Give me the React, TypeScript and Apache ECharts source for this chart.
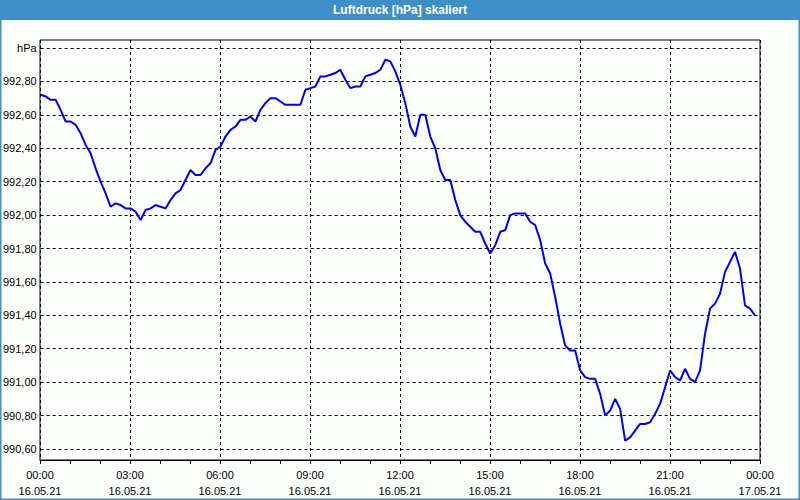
import React, { useEffect, useRef } from "react";
import * as echarts from "echarts";

// 10-minute readings, 16.05.21 00:00 .. 23:50 (hPa)
const pressure: number[] = [
  992.72, 992.71, 992.69, 992.69, 992.63, 992.56, 992.56, 992.54, 992.49, 992.42,
  992.37, 992.28, 992.20, 992.13, 992.05, 992.07, 992.06, 992.04, 992.04, 992.02,
  991.97, 992.03, 992.04, 992.06, 992.05, 992.04, 992.09, 992.13, 992.15, 992.21,
  992.27, 992.24, 992.24, 992.28, 992.31, 992.39, 992.41, 992.47, 992.51, 992.53,
  992.57, 992.57, 992.59, 992.56, 992.63, 992.67, 992.70, 992.70, 992.68, 992.66,
  992.66, 992.66, 992.66, 992.75, 992.76, 992.77, 992.83, 992.83, 992.84, 992.85,
  992.87, 992.81, 992.76, 992.77, 992.77, 992.83, 992.84, 992.85, 992.87, 992.93,
  992.92, 992.86, 992.78, 992.67, 992.53, 992.47, 992.60, 992.60, 992.47, 992.40,
  992.27, 992.21, 992.21, 992.09, 992.00, 991.96, 991.93, 991.90, 991.90, 991.83,
  991.77, 991.82, 991.90, 991.91, 992.00, 992.01, 992.01, 992.01, 991.96, 991.94,
  991.85, 991.71, 991.65, 991.51, 991.35, 991.22, 991.19, 991.19, 991.07, 991.03,
  991.02, 991.02, 990.93, 990.80, 990.83, 990.90, 990.84, 990.65, 990.67, 990.71,
  990.75, 990.75, 990.76, 990.81, 990.87, 990.97, 991.07, 991.03, 991.01, 991.08,
  991.02, 991.00, 991.07, 991.29, 991.44, 991.47, 991.53, 991.66, 991.72, 991.78,
  991.68, 991.46, 991.44, 991.40,
];

// time of each reading in hours since 16.05.21 00:00
const hoursOfDay: number[] = pressure.map((_, i) => i / 6);

const xTickLabels: string[] = [
  "00:00\n16.05.21", "03:00\n16.05.21", "06:00\n16.05.21", "09:00\n16.05.21",
  "12:00\n16.05.21", "15:00\n16.05.21", "18:00\n16.05.21", "21:00\n16.05.21",
  "00:00\n17.05.21",
];

const yUnitLabel = "hPa";
const titleText = "Luftdruck [hPa] skaliert";

const FONT = "'Liberation Sans', Arial, sans-serif";
const BLUE = "#3d8fc6";

export default function App() {
  const ref = useRef<HTMLDivElement>(null);

  useEffect(() => {
    if (!ref.current) return;
    const chart = echarts.init(ref.current, undefined, { renderer: "svg" });
    const dashed = { type: [3, 3] as number[], color: "#000", width: 1 };
    chart.setOption({
      animation: false,
      backgroundColor: "#fcfefc",
      textStyle: { fontFamily: FONT },
      grid: [
        { left: 40, right: 40, top: 40, bottom: 40, show: true, borderColor: "#000", borderWidth: 1 },
        { left: 40, right: 40, top: 48, bottom: 51 },
      ],
      xAxis: [
        {
          gridIndex: 0,
          type: "value",
          min: 0,
          max: 24,
          interval: 3,
          axisLine: { show: true, lineStyle: { color: "#000", width: 1 } },
          axisTick: { show: true, length: 4, lineStyle: { color: "#000" } },
          minorTick: { show: true, splitNumber: 3, length: 4, lineStyle: { color: "#000" } },
          splitLine: { show: true, lineStyle: dashed },
          axisLabel: {
            color: "#000",
            fontSize: 11,
            fontFamily: FONT,
            lineHeight: 16,
            margin: 7,
            formatter: (v: number) => xTickLabels[Math.round(v / 3)] ?? "",
          },
        },
        { gridIndex: 1, type: "value", min: 0, max: 24, show: false },
      ],
      yAxis: [
        { gridIndex: 0, type: "value", min: 0, max: 1, show: false },
        {
          gridIndex: 1,
          type: "value",
          min: 990.6,
          max: 993.0,
          interval: 0.2,
          axisLine: { show: false },
          axisTick: { show: false },
          splitLine: { show: true, lineStyle: dashed },
          axisLabel: {
            color: "#000",
            fontSize: 11,
            fontFamily: FONT,
            margin: 4,
            formatter: (v: number) =>
              v > 992.99 ? yUnitLabel : v.toFixed(2).replace(".", ","),
          },
        },
      ],
      series: [
        {
          type: "line",
          xAxisIndex: 1,
          yAxisIndex: 1,
          data: pressure.map((p, i) => [hoursOfDay[i], p]),
          showSymbol: false,
          symbol: "none",
          lineStyle: { color: "#0000e6", width: 2 },
          z: 5,
        },
      ],
      graphic: [
        {
          type: "rect",
          shape: { x: 0, y: 0, width: 800, height: 20 },
          style: { fill: BLUE },
          silent: true,
        },
        {
          type: "text",
          x: 400,
          y: 10,
          style: {
            text: titleText,
            fill: "#fff",
            font: `bold 12px ${FONT}`,
            align: "center",
            verticalAlign: "middle",
          },
          silent: true,
        },
        {
          type: "rect",
          shape: { x: 0.5, y: 0.5, width: 799, height: 499 },
          style: { fill: "none", stroke: BLUE, lineWidth: 2 },
          silent: true,
        },
      ],
    });
    return () => chart.dispose();
  }, []);

  return (
    <div
      ref={ref}
      style={{ position: "fixed", left: 0, top: 0, width: 800, height: 500 }}
    />
  );
}
